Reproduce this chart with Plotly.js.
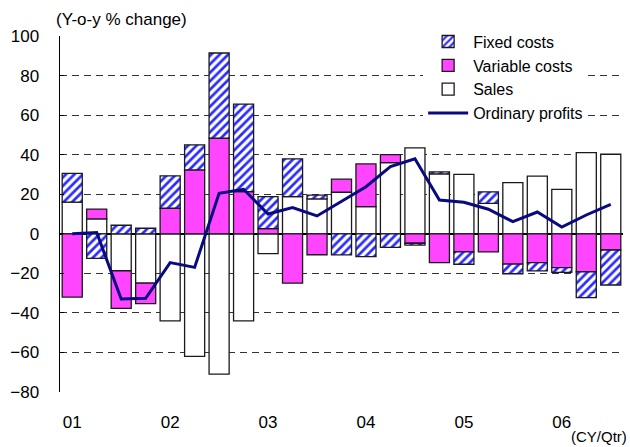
<!DOCTYPE html>
<html>
<head>
<meta charset="utf-8">
<script src="https://cdn.plot.ly/plotly-3.0.1.min.js"></script>
<style>html,body{margin:0;padding:0;background:#fff;}#chart{width:630px;height:447px;}</style>
</head>
<body>
<div id="chart"></div>
<script>
// Quarters 2001Q1 .. 2006Q3
const quarters = ['01Q1','01Q2','01Q3','01Q4','02Q1','02Q2','02Q3','02Q4','03Q1','03Q2','03Q3','03Q4',
                  '04Q1','04Q2','04Q3','04Q4','05Q1','05Q2','05Q3','05Q4','06Q1','06Q2','06Q3'];
const yearTickQuarters = ['01Q1','02Q1','03Q1','04Q1','05Q1','06Q1'];
const yearLabels = ['01','02','03','04','05','06'];

const sales          = [16, 7.5, -18.7, -25, -44, -62, -71, -44, -10, 18.8, 17.6, 21, 13.7, 36, 43.4, 30.3, 30, 15.4, 25.9, 29.1, 22.5, 41, 40.2];
const variableCosts  = [-32, 5, -19, -10.3, 12.9, 32.3, 48.3, 21.3, 2.6, -25, -10.6, 6.6, 21.6, 4, -4.8, -14.6, -9.2, -9.2, -15.3, -14.6, -17.1, -19.2, -8.2];
const fixedCosts     = [14.5, -12.4, 4.3, 2.8, 16.4, 12.7, 43.1, 44.3, 16.2, 19.1, 1.9, -10.7, -11.6, -6.9, -0.9, 1, -6.2, 5.8, -4.9, -4.2, -2.4, -13.1, -17.7];
const ordinaryProfits= [0, 0.6, -33, -32.6, -14.6, -17, 20.5, 22.5, 10, 13.2, 9, 16.3, 23.8, 34, 37.9, 17.1, 15.9, 12.4, 6.1, 11, 3.4, 9.5, 14.9];

const FONT = 'Liberation Sans, Arial, sans-serif';
const outline = {color: '#1a1a1a', width: 1.3};

const traces = [
  {type: 'bar', name: 'Sales', x: quarters, y: sales, legendrank: 3,
   marker: {color: '#ffffff', line: outline}},
  {type: 'bar', name: 'Variable costs', x: quarters, y: variableCosts, legendrank: 2,
   marker: {color: '#ff45ff', line: outline}},
  {type: 'bar', name: 'Fixed costs', x: quarters, y: fixedCosts, legendrank: 1,
   marker: {color: '#ffffff', line: outline,
            pattern: {shape: '/', fgcolor: '#2a2aff', bgcolor: '#ffffff', size: 6, solidity: 0.45}}},
  {type: 'scatter', mode: 'lines', name: 'Ordinary profits', x: quarters, y: ordinaryProfits, legendrank: 4,
   line: {color: '#0a0a80', width: 3}}
];

const layout = {
  width: 630, height: 447,
  margin: {l: 60, r: 7, t: 36, b: 55},
  paper_bgcolor: '#ffffff', plot_bgcolor: '#ffffff',
  font: {family: FONT, size: 17, color: '#000'},
  barmode: 'relative',
  bargap: 0.18,
  showlegend: true,
  legend: {x: 0.645, xanchor: 'left', y: 1.032, yanchor: 'top', bgcolor: '#ffffff',
           font: {family: FONT, size: 16, color: '#000'}, itemwidth: 40, tracegroupgap: 0},
  xaxis: {type: 'category', categoryorder: 'array', categoryarray: quarters,
          tickmode: 'array', tickvals: yearTickQuarters, ticktext: yearLabels,
          showgrid: false, showline: false, zeroline: false, ticks: '',
          ticklabelstandoff: 18, tickfont: {family: FONT, size: 17, color: '#000'}},
  yaxis: {range: [-80, 100], dtick: 20, tick0: 0,
          showgrid: true, gridcolor: '#333333', gridwidth: 1, griddash: '7px,5px',
          zeroline: true, zerolinecolor: '#000000', zerolinewidth: 1.5,
          showline: true, linecolor: '#000000', linewidth: 1.5,
          ticks: 'inside', ticklen: 4, tickcolor: '#000',
          ticklabelstandoff: 16, tickfont: {family: FONT, size: 17, color: '#000'}},
  annotations: [
    {text: '(Y-o-y % change)', xref: 'paper', yref: 'paper', x: -0.01, y: 1.045,
     xanchor: 'left', yanchor: 'middle', showarrow: false, font: {family: FONT, size: 17, color: '#000'}},
    {text: '(CY/Qtr)', xref: 'paper', yref: 'paper', x: 1.0107, y: -0.124,
     xanchor: 'right', yanchor: 'middle', showarrow: false, font: {family: FONT, size: 15, color: '#000'}}
  ]
};

Plotly.newPlot('chart', traces, layout, {displayModeBar: false, staticPlot: true});
</script>
</body>
</html>
